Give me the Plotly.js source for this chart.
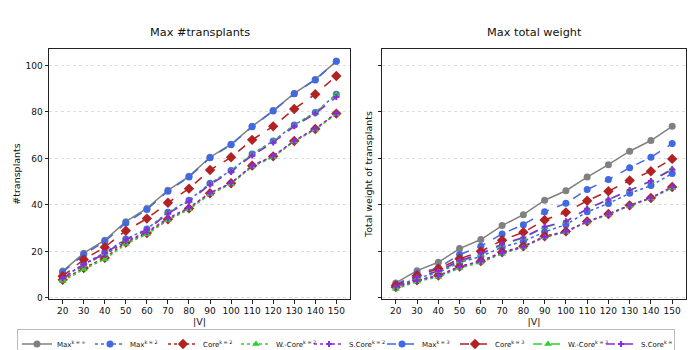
<!DOCTYPE html>
<html>
<head>
<meta charset="utf-8">
<script src="https://cdn.plot.ly/plotly-3.0.1.min.js"></script>
<style>
  body { margin: 0; background: #fff; }
  #chart { width: 700px; height: 350px; }
</style>
</head>
<body>
<div id="chart"></div>
<script>
// |V| categories
var sizes = ["20", "30", "40", "50", "60", "70", "80", "90", "100", "110", "120", "130", "140", "150"];

// left panel: max #transplants
var cntMaxInf = [11.5, 19.2, 24.8, 32.8, 38.5, 46.3, 52.3, 60.5, 66.1, 73.8, 80.6, 88.0, 94.0, 101.8];
var cntMax2 = [8.5, 14.5, 19.5, 25.3, 29.6, 36.8, 42.0, 49.3, 54.8, 61.9, 67.5, 74.4, 79.8, 87.6];
var cntCore2 = [7.8, 12.8, 17.2, 23.8, 27.9, 33.8, 38.5, 45.0, 49.3, 56.9, 60.9, 67.5, 72.7, 79.3];
var cntWCore2 = [7.2, 12.3, 16.6, 23.2, 27.4, 33.4, 38.1, 44.6, 49.0, 56.5, 60.6, 67.3, 72.4, 79.1];
var cntSCore2 = [8.6, 14.6, 18.4, 24.4, 28.3, 34.3, 38.8, 45.2, 49.4, 56.8, 61.0, 67.6, 72.8, 79.4];
var cntMax3 = [11.0, 18.7, 24.2, 32.2, 38.0, 45.9, 52.0, 60.3, 65.9, 73.6, 80.4, 87.8, 93.8, 101.8];
var cntCore3 = [9.3, 16.5, 21.8, 28.9, 34.1, 40.9, 47.0, 55.0, 60.5, 68.0, 73.8, 81.3, 87.6, 95.5];
var cntWCore3 = [8.0, 14.0, 19.0, 25.0, 29.2, 36.5, 41.6, 49.0, 54.5, 61.7, 67.3, 74.2, 79.6, 87.4];
var cntSCore3 = [8.3, 14.2, 19.2, 25.0, 29.3, 36.3, 41.5, 48.8, 54.2, 61.3, 66.9, 73.8, 79.3, 86.4];

// right panel: max total weight
var wMaxInf = [6.4, 11.7, 15.3, 21.2, 25.1, 31.1, 35.8, 42.0, 46.1, 52.0, 57.3, 63.1, 67.7, 73.8];
var wMax2 = [4.8, 8.5, 10.8, 15.2, 17.8, 21.8, 24.3, 28.4, 31.5, 37.0, 40.6, 45.0, 48.3, 53.5];
var wCore2 = [4.6, 7.6, 9.6, 13.5, 15.8, 19.6, 22.2, 26.5, 28.6, 32.9, 36.1, 39.8, 43.0, 47.7];
var wWCore2 = [3.8, 7.0, 9.0, 12.8, 15.2, 19.0, 21.8, 26.1, 28.3, 32.6, 35.8, 39.6, 42.8, 47.3];
var wSCore2 = [4.3, 7.5, 9.5, 13.3, 15.8, 19.4, 22.0, 26.2, 28.5, 32.8, 36.0, 39.8, 43.0, 47.8];
var wMax3 = [5.7, 10.5, 12.9, 18.6, 22.2, 27.5, 31.5, 37.0, 40.7, 46.6, 50.9, 56.0, 60.5, 66.4];
var wCore3 = [5.3, 9.6, 12.5, 16.8, 20.0, 24.8, 28.2, 33.5, 36.8, 41.8, 45.9, 50.5, 54.5, 59.8];
var wWCore3 = [4.6, 8.8, 11.4, 15.6, 18.6, 22.8, 25.8, 30.4, 32.7, 38.3, 42.3, 46.3, 50.2, 55.6];
var wSCore3 = [4.9, 9.0, 11.6, 16.0, 19.0, 23.2, 26.0, 30.6, 33.0, 38.3, 42.3, 46.4, 50.3, 55.2];

var seriesNames = ["Max<sup>k = ∞</sup>", "Max<sup>k = 2</sup>", "Core<sup>k = 2</sup>", "W.-Core<sup>k = 2</sup>",
    "S.Core<sup>k = 2</sup>", "Max<sup>k = 3</sup>", "Core<sup>k = 3</sup>", "W.-Core<sup>k = 3</sup>", "S.Core<sup>k = 3</sup>"];
var leftData = [cntMaxInf, cntMax2, cntCore2, cntWCore2, cntSCore2, cntMax3, cntCore3, cntWCore3, cntSCore3];
var rightData = [wMaxInf, wMax2, wCore2, wWCore2, wSCore2, wMax3, wCore3, wWCore3, wSCore3];

var styles = [
    { color: "#808080", dash: "solid", symbol: "circle", size: 7 },
    { color: "#4169e1", dash: "dot", symbol: "circle", size: 7 },
    { color: "#b22222", dash: "dot", symbol: "diamond", size: 8 },
    { color: "#32cd32", dash: "dot", symbol: "triangle-up", size: 7 },
    { color: "#8a2be2", dash: "dot", symbol: "cross", size: 5 },
    { color: "#4169e1", dash: "dash", symbol: "circle", size: 7 },
    { color: "#b22222", dash: "dash", symbol: "diamond", size: 8 },
    { color: "#32cd32", dash: "dash", symbol: "triangle-up", size: 7 },
    { color: "#8a2be2", dash: "dash", symbol: "cross", size: 5 }
];

var traces = [];
for (var i = 0; i < seriesNames.length; i++) {
    var st = styles[i];
    traces.push({
        name: seriesNames[i], x: sizes, y: leftData[i], xaxis: "x", yaxis: "y",
        type: "scatter", mode: "lines+markers", legendgroup: "g" + i,
        line: { color: st.color, dash: st.dash, width: 1.5 },
        marker: { color: st.color, symbol: st.symbol, size: st.size }
    });
}
for (var i = 0; i < seriesNames.length; i++) {
    var st = styles[i];
    traces.push({
        name: seriesNames[i], x: sizes, y: rightData[i], xaxis: "x2", yaxis: "y2",
        type: "scatter", mode: "lines+markers", legendgroup: "g" + i, showlegend: false,
        line: { color: st.color, dash: st.dash, width: 1.5 },
        marker: { color: st.color, symbol: st.symbol, size: st.size }
    });
}

var xBase = {
    type: "category", range: [-0.65, 13.65], showgrid: false, zeroline: false,
    showline: true, mirror: true, linecolor: "#222", linewidth: 1,
    ticks: "outside", ticklen: 3.5, tickcolor: "#222",
    tickfont: { size: 9, color: "#111" },
    title: { text: "|V|", font: { size: 9.5, color: "#111" }, standoff: 2 }
};
var yBase = {
    range: [-0.5, 107.1], tickvals: [0, 20, 40, 60, 80, 100], zeroline: false,
    showgrid: true, gridcolor: "#d4d4d4", griddash: "dot", gridwidth: 0.8,
    showline: true, mirror: true, linecolor: "#222", linewidth: 1,
    ticks: "outside", ticklen: 3.5, tickcolor: "#222",
    tickfont: { size: 9, color: "#111" }
};

var layout = {
    width: 700, height: 350,
    margin: { l: 49, r: 14, t: 49, b: 50.5, autoexpand: false },
    paper_bgcolor: "#fff", plot_bgcolor: "#fff",
    font: { family: "DejaVu Sans, sans-serif", color: "#111" },
    xaxis: Object.assign({}, xBase, { domain: [0, 301 / 637], anchor: "y" }),
    yaxis: Object.assign({}, yBase, {
        anchor: "x",
        title: { text: "#transplants", font: { size: 9.5, color: "#111" }, standoff: 3 }
    }),
    xaxis2: Object.assign({}, xBase, { domain: [333 / 637, 1], anchor: "y2" }),
    yaxis2: Object.assign({}, yBase, {
        anchor: "x2", showticklabels: false,
        title: { text: "Total weight of transplants", font: { size: 9.5, color: "#111" }, standoff: 3 }
    }),
    annotations: [
        { text: "Max #transplants", xref: "paper", yref: "paper", x: 150.5 / 637, y: 1, yshift: 8,
          xanchor: "center", yanchor: "bottom", showarrow: false, font: { size: 11.3, color: "#111" } },
        { text: "Max total weight", xref: "paper", yref: "paper", x: 485 / 637, y: 1, yshift: 8,
          xanchor: "center", yanchor: "bottom", showarrow: false, font: { size: 11.3, color: "#111" } }
    ],
    showlegend: true,
    legend: {
        orientation: "h", x: -32 / 637, xanchor: "left", y: -0.118, yanchor: "top",
        bordercolor: "#bbbbbb", borderwidth: 1, bgcolor: "#fff",
        font: { size: 7, color: "#111" },
        entrywidth: 28, entrywidthmode: "pixels",
        itemwidth: 30, tracegroupgap: 0
    }
};

Plotly.newPlot("chart", traces, layout, { staticPlot: true });
</script>
</body>
</html>
